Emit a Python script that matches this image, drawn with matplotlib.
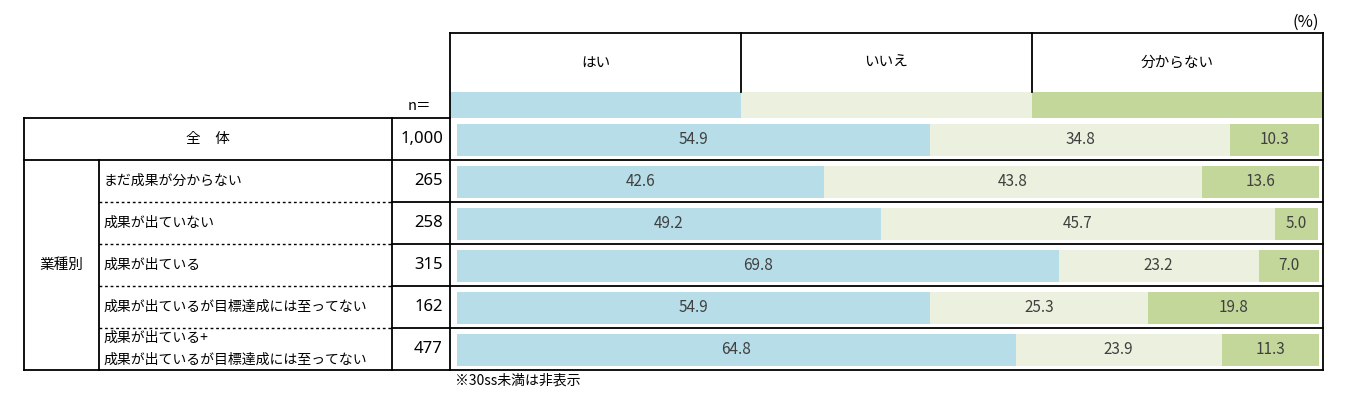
import numpy as np
import matplotlib.pyplot as plt
from matplotlib.patches import Rectangle

plt.rcParams['font.family'] = ['Noto Sans CJK JP', 'DejaVu Sans']

# data
labels = ['全　体', 'まだ成果が分からない', '成果が出ていない', '成果が出ている',
          '成果が出ているが目標達成には至ってない',
          '成果が出ている+\n成果が出ているが目標達成には至ってない']
n_vals = [1000, 265, 258, 315, 162, 477]
yes = [54.9, 42.6, 49.2, 69.8, 54.9, 64.8]
no = [34.8, 43.8, 45.7, 23.2, 25.3, 23.9]
unknown = [10.3, 13.6, 5.0, 7.0, 19.8, 11.3]
series_names = ['はい', 'いいえ', '分からない']
colors = ['#B7DDE8', '#EBF1DE', '#C4D79B']
group_label = '業種別'
note = '※30ss未満は非表示'

W, H = 1355, 399
fig = plt.figure(figsize=(W / 100, H / 100), dpi=100)

# table layer in pixel coords
tab = fig.add_axes([0, 0, 1, 1])
tab.set_xlim(0, W)
tab.set_ylim(H, 0)
tab.axis('off')

x_left, x_grp, x_n, x_bar, x_right = 24, 99, 392, 450, 1323
y_head, y_band, y_top, row_h = 33, 92, 118, 42
nrows = len(labels)
y_bot = y_top + nrows * row_h
lw = 1.3
k = dict(color='black', lw=lw)

# header box
tab.plot([x_bar, x_right], [y_head, y_head], **k)
col_w = (x_right - x_bar) / 3
for i, name in enumerate(series_names):
    x0 = x_bar + i * col_w
    tab.add_patch(Rectangle((x0, y_band), col_w, y_top - y_band, color=colors[i], lw=0))
    tab.text(x0 + col_w / 2, (y_head + y_band) / 2, name, ha='center', va='center', fontsize=10.5)
    if i > 0:
        tab.plot([x0, x0], [y_head, y_band], **k)

# outer lines
tab.plot([x_left, x_bar], [y_top, y_top], **k)
tab.plot([x_left, x_right], [y_bot, y_bot], **k)
tab.plot([x_left, x_left], [y_top, y_bot], **k)
tab.plot([x_grp, x_grp], [y_top + row_h, y_bot], **k)
tab.plot([x_n, x_n], [y_top, y_bot], **k)
tab.plot([x_bar, x_bar], [y_head, y_bot], **k)
tab.plot([x_right, x_right], [y_head, y_bot], **k)

for r in range(1, nrows):
    y = y_top + r * row_h
    if r == 1:
        tab.plot([x_left, x_right], [y, y], **k)
    else:
        tab.plot([x_grp, x_n], [y, y], color='black', lw=1.0, ls=(0, (2, 2)))
        tab.plot([x_n, x_right], [y, y], **k)

# row texts
for r, (lab, n) in enumerate(zip(labels, n_vals)):
    yc = y_top + r * row_h + row_h / 2
    if r == 0:
        tab.text((x_left + x_n) / 2, yc, lab, ha='center', va='center', fontsize=10.5)
    else:
        tab.text(x_grp + 4, yc, lab, ha='left', va='center', fontsize=10, linespacing=1.7)
    tab.text(443, yc, f'{n:,}', ha='right', va='center', fontsize=12,
             family=['Noto Sans', 'DejaVu Sans'])

tab.text((x_left + x_grp) / 2, y_top + row_h + (nrows - 1) * row_h / 2, group_label,
         ha='center', va='center', fontsize=10.5)
tab.text(431, 106, 'n＝', ha='right', va='center', fontsize=10.5)
tab.text(1319, 22, '(%)', ha='right', va='center', fontsize=12)
tab.text(455, 381, note, ha='left', va='center', fontsize=10)

# bars
bx0, bx1 = 457, 1319
ax = fig.add_axes([bx0 / W, (H - y_bot) / H, (bx1 - bx0) / W, nrows * row_h / H])
ax.set_xlim(0, 100)
ax.set_ylim(nrows - 0.52, -0.52)
ax.axis('off')
ax.patch.set_alpha(0)

y = np.arange(nrows)
left = np.zeros(nrows)
for vals, c in zip([yes, no, unknown], colors):
    vals = np.array(vals)
    ax.barh(y, vals, left=left, height=0.76, color=c, lw=0)
    for yi, l, v in zip(y, left, vals):
        ax.text(l + v / 2, yi, f'{v:.1f}', ha='center', va='center', fontsize=11, color='#404040')
    left = left + vals

fig.savefig('out.png', dpi=100)
